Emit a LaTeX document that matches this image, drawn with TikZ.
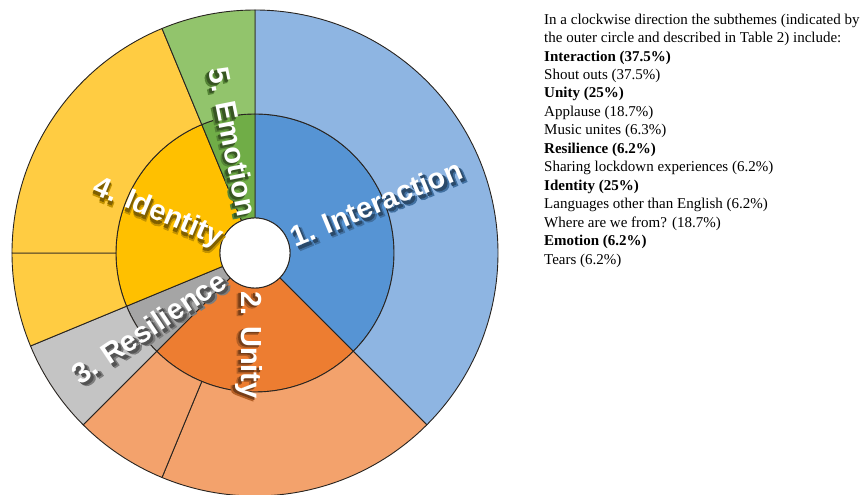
\documentclass[tikz,border=0pt]{standalone}
\usepackage{fontspec}
\setmainfont{Liberation Serif}
\newfontfamily\labelfont{Liberation Sans}
% thickened copies of the label face, used for the soft drop shadow
\newfontfamily\haloWide{Liberation Sans}[UprightFont=* Bold, FakeBold=5]
\newfontfamily\haloNarrow{Liberation Sans}[UprightFont=* Bold, FakeBold=2]

% theme colours (inner ring) and subtheme colours (outer ring)
\definecolor{blueIn}{RGB}{86,148,212}
\definecolor{blueOut}{RGB}{142,181,226}
\definecolor{orangeIn}{RGB}{237,125,49}
\definecolor{orangeOut}{RGB}{243,162,108}
\definecolor{grayIn}{RGB}{165,165,165}
\definecolor{grayOut}{RGB}{196,196,196}
\definecolor{yellowIn}{RGB}{255,192,0}
\definecolor{yellowOut}{RGB}{255,204,66}
\definecolor{greenIn}{RGB}{112,173,71}
\definecolor{greenOut}{RGB}{146,196,108}
\definecolor{edge}{RGB}{40,36,32}

% annular sector: #1 fill, #2 start angle, #3 end angle, #4 inner radius, #5 outer radius
\newcommand\ringseg[5]{%
  \filldraw[seg, fill=#1] (#2:#4pt) arc[start angle=#2, end angle=#3, radius=#4pt]
    -- (#3:#5pt) arc[start angle=#3, end angle=#2, radius=#5pt] -- cycle;}

% text with a drop shadow tinted by the sector colour #1
\newcommand\shadowed[2]{%
  \makebox[0pt][l]{\raisebox{-4.5pt}{\kern2pt{\haloWide\mdseries\color{#1!76!black}#2}}}%
  \makebox[0pt][l]{\raisebox{-3pt}{\kern1pt{\haloNarrow\mdseries\color{#1!50!black}#2}}}%
  #2}

% theme label: #1 name, #2 position, #3 rotation, #4 sector colour, #5 text
\newcommand\ringlabel[5]{%
  \node[lbl, rotate=#3] (#1) at #2 {\shadowed{#4}{#5}};}

\begin{document}
\begin{tikzpicture}[x=1pt,y=1pt,
  seg/.style={draw=edge, line width=0.9pt, line join=round},
  lbl/.style={font=\labelfont\bfseries\fontsize{29}{29}\selectfont, text=white, inner sep=0pt},
  note/.style={font=\fontsize{15}{18.46}\selectfont, align=left, inner sep=0pt}]
\useasboundingbox (0,0) rectangle (868,495);

\begin{scope}[shift={(255,242)}]
  % inner ring: themes
  \ringseg{blueIn}{90}{-45}{35}{139}
  \ringseg{orangeIn}{-45}{-135}{35}{139}
  \ringseg{grayIn}{-135}{-157.5}{35}{139}
  \ringseg{yellowIn}{-157.5}{-247.5}{35}{139}
  \ringseg{greenIn}{-247.5}{-270}{35}{139}
  % outer ring: subthemes
  \ringseg{blueOut}{90}{-45}{139}{243}
  \ringseg{orangeOut}{-45}{-112.5}{139}{243}
  \ringseg{orangeOut}{-112.5}{-135}{139}{243}
  \ringseg{grayOut}{-135}{-157.5}{139}{243}
  \ringseg{yellowOut}{-157.5}{-180}{139}{243}
  \ringseg{yellowOut}{-180}{-247.5}{139}{243}
  \ringseg{greenOut}{-247.5}{-270}{139}{243}
  % centre hole
  \node[circle, draw=edge, line width=0.9pt, fill=white, minimum size=70pt, inner sep=0pt] (hole) at (0,0) {};

  % theme labels
  \ringlabel{interaction}{(122,48)}{22.5}{blueIn}{1. Interaction}
  \ringlabel{unity}{(-8,-92)}{-90}{orangeIn}{2. Unity}
  \ringlabel{resilience}{(-105,-76)}{33.75}{grayIn}{3. Resilience}
  \ringlabel{identity}{(-98,38)}{-22.5}{yellowIn}{4. Identity}
  \ringlabel{emotion}{(-24,111)}{-78.75}{greenIn}{5. Emotion}
\end{scope}

\node[note, anchor=north west] (legend) at (544,481.5) {%
In a clockwise direction the subthemes (indicated by\\
the outer circle and described in Table 2) include:\\
\textbf{Interaction (37.5\%)}\\
Shout outs (37.5\%)\\
\textbf{Unity (25\%)}\\
Applause (18.7\%)\\
Music unites (6.3\%)\\
\textbf{Resilience (6.2\%)}\\
Sharing lockdown experiences (6.2\%)\\
\textbf{Identity (25\%)}\\
Languages other than English (6.2\%)\\
Where are we from? (18.7\%)\\
\textbf{Emotion (6.2\%)}\\
Tears (6.2\%)};
\end{tikzpicture}
\end{document}
